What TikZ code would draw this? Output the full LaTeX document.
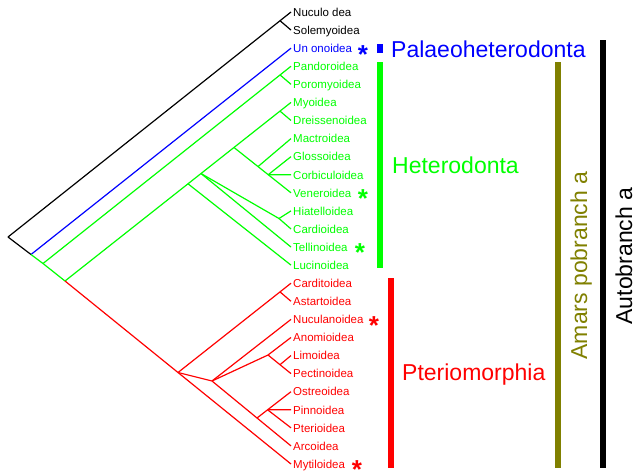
\documentclass[tikz,border=0pt]{standalone}
\usepackage{fontspec}
\setmainfont{Liberation Sans}
\definecolor{cgreen}{RGB}{0,255,0}
\definecolor{cblue}{RGB}{0,0,255}
\definecolor{cred}{RGB}{255,0,0}
\definecolor{colive}{RGB}{128,128,0}
\newcommand{\mystar}{\raisebox{-0.57em}[0.17em][0.16em]{*}}
\begin{document}
\begin{tikzpicture}[x=1pt,y=-1pt,
  br/.style={line width=1.2pt},
  leaf/.style={anchor=base west,inner sep=0pt,font=\fontsize{11.5}{13}\selectfont},
  big/.style={anchor=base west,inner sep=0pt,font=\fontsize{23}{26}\selectfont},
  bigrot/.style={anchor=base,inner sep=0pt,rotate=90,text depth=0pt,font=\fontsize{23}{26}\selectfont},
  star/.style={anchor=base,inner sep=0pt,font=\fontsize{26}{26}\selectfont\bfseries},
  bar/.style={draw=none}]
\useasboundingbox (0,0) rectangle (636,471);
% leaf end points and labels
\foreach \i/\t/\c in {0/Nuculo dea/black,1/Solemyoidea/black,2/Un onoidea/cblue,
  3/Pandoroidea/cgreen,4/Poromyoidea/cgreen,5/Myoidea/cgreen,6/Dreissenoidea/cgreen,
  7/Mactroidea/cgreen,8/Glossoidea/cgreen,9/Corbiculoidea/cgreen,10/Veneroidea/cgreen,
  11/Hiatelloidea/cgreen,12/Cardioidea/cgreen,13/Tellinoidea/cgreen,14/Lucinoidea/cgreen,
  15/Carditoidea/cred,16/Astartoidea/cred,17/Nuculanoidea/cred,18/Anomioidea/cred,
  19/Limoidea/cred,20/Pectinoidea/cred,21/Ostreoidea/cred,22/Pinnoidea/cred,
  23/Pterioidea/cred,24/Arcoidea/cred,25/Mytiloidea/cred}{
  \coordinate (l\i) at (291,{12+18.08*\i});
  \node[leaf,text=\c] (t\i) at (293,{12+18.08*\i+4.3}) {\t};
}
% internal nodes
\coordinate (root) at (8,237);
\coordinate (A) at (31,254.5);
\coordinate (B) at (43,263.5);
\coordinate (C) at (65,281);
\coordinate (nsol) at (280,20.7);
\coordinate (npor) at (280,74.9);
\coordinate (D) at (188,183.8);
\coordinate (E) at (201,173.5);
\coordinate (G) at (234,147.5);
\coordinate (M) at (280,111.1);
\coordinate (HC) at (279,218.5);
\coordinate (MA) at (258,166.6);
\coordinate (GC) at (268.2,174.7);
\coordinate (R1) at (178,372.5);
\coordinate (R2) at (212,381);
\coordinate (CA) at (280,291.9);
\coordinate (AN) at (268,355);
\coordinate (LI) at (280,364.7);
\coordinate (OS) at (257,418);
\coordinate (OP) at (267.6,409.8);
% black
\draw[br,black] (root) -- (l0);
\draw[br,black] (nsol) -- (l1);
\draw[br,black] (root) -- (A);
% blue
\draw[br,cblue] (A) -- (l2);
% green
\draw[br,cgreen] (A) -- (B) -- (C);
\draw[br,cgreen] (B) -- (l3);
\draw[br,cgreen] (npor) -- (l4);
\draw[br,cgreen] (C) -- (l5);
\draw[br,cgreen] (M) -- (l6);
\draw[br,cgreen] (G) -- (l10);
\draw[br,cgreen] (MA) -- (l7);
\draw[br,cgreen] (GC) -- (l8);
\draw[br,cgreen] (GC) -- (l9);
\draw[br,cgreen] (E) -- (HC) -- (l11);
\draw[br,cgreen] (HC) -- (l12);
\draw[br,cgreen] (E) -- (l13);
\draw[br,cgreen] (D) -- (l14);
% red
\draw[br,cred] (C) -- (l25);
\draw[br,cred] (R1) -- (l15);
\draw[br,cred] (CA) -- (l16);
\draw[br,cred] (R1) -- (R2) -- (l24);
\draw[br,cred] (R2) -- (l17);
\draw[br,cred] (R2) -- (AN) -- (l18);
\draw[br,cred] (AN) -- (l20);
\draw[br,cred] (LI) -- (l19);
\draw[br,cred] (OS) -- (l21);
\draw[br,cred] (OP) -- (l22);
\draw[br,cred] (OP) -- (l23);
% stars
\node[star,text=cblue] (s2) at (363,48.2) {\mystar};
\node[star,text=cgreen] (s10) at (363,192.8) {\mystar};
\node[star,text=cgreen] (s13) at (360,247) {\mystar};
\node[star,text=cred] (s17) at (374,319.4) {\mystar};
\node[star,text=cred] (s25) at (357,463.5) {\mystar};
% bars
\fill[cblue] (377,44) rectangle (383,53);
\fill[cgreen] (377,62) rectangle (383,268);
\fill[cred] (388,278) rectangle (394,468);
\fill[colive] (555,62) rectangle (561,468);
\fill[black] (600,40) rectangle (606,468);
% group labels
\node[big,text=cblue] (palaeo) at (391,57) {Palaeoheterodonta};
\node[big,text=cgreen] (hetero) at (392,173) {Heterodonta};
\node[big,text=cred] (pterio) at (402,380) {Pteriomorphia};
\node[bigrot,text=colive] (amars) at (587,265.5) {Amars pobranch a};
\node[bigrot,text=black] (auto) at (632,256) {Autobranch a};
\end{tikzpicture}
\end{document}
